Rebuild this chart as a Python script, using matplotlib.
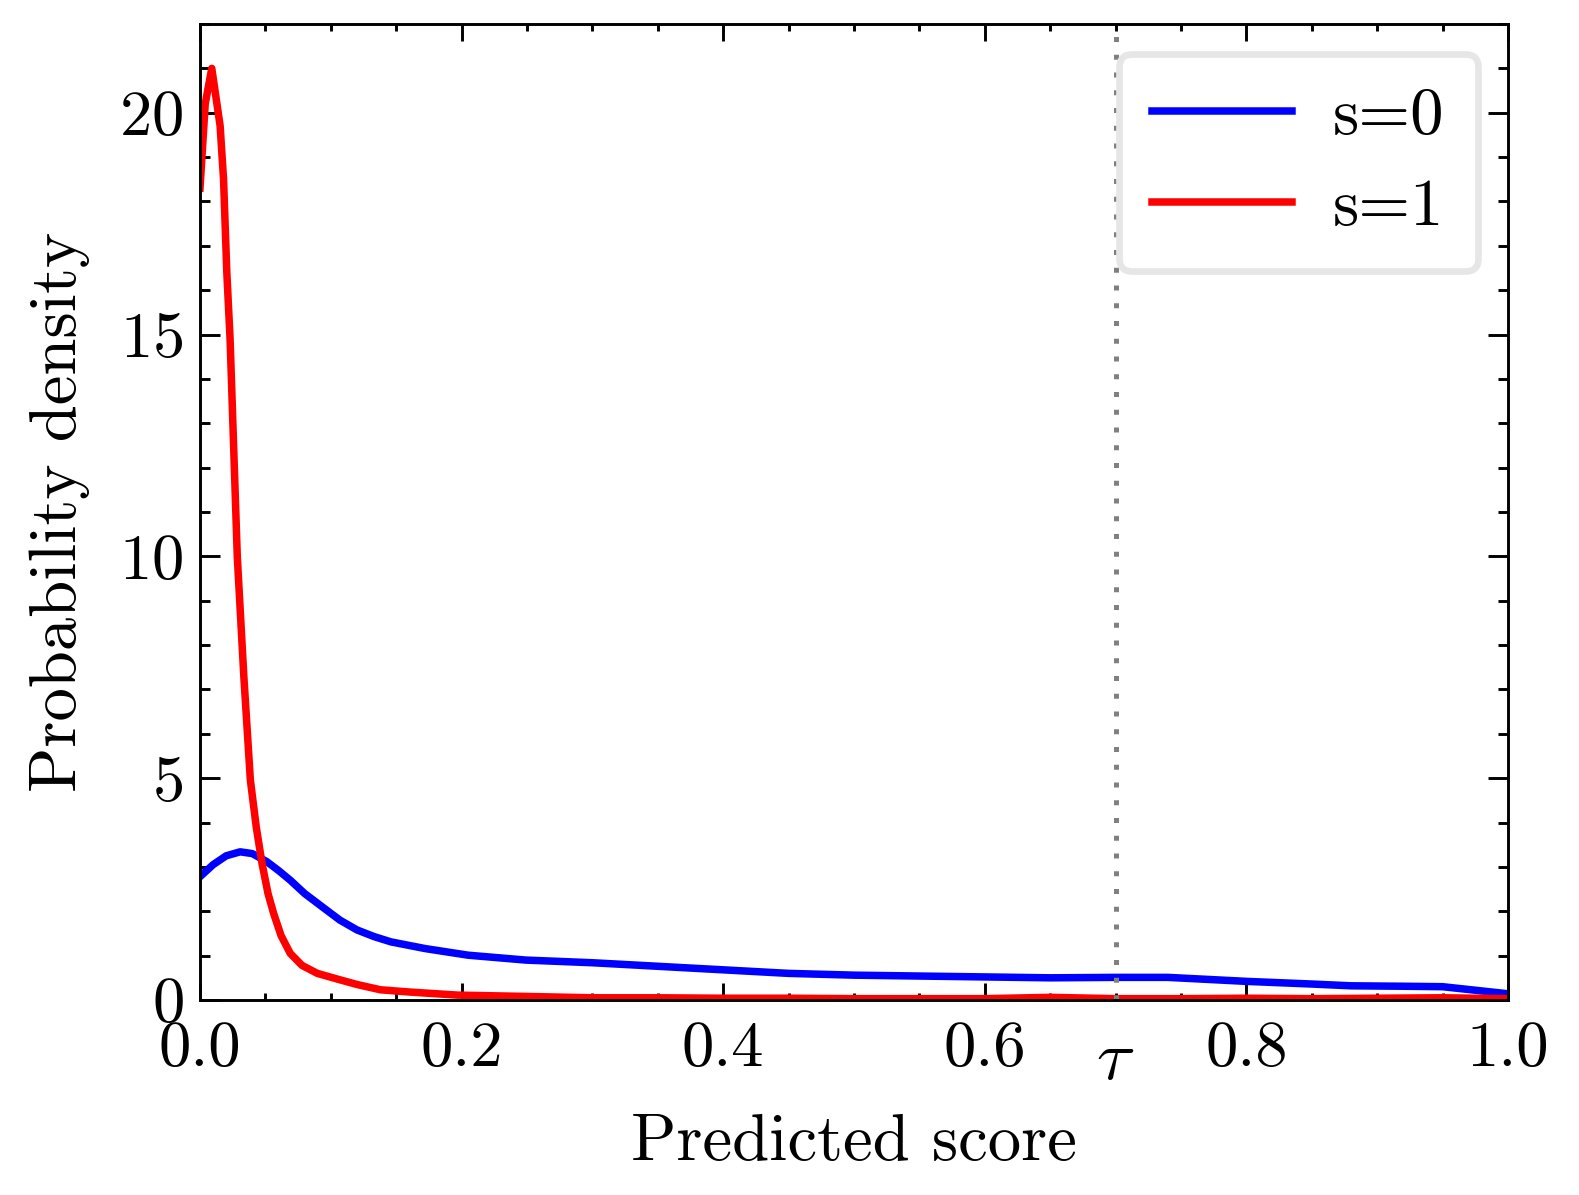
import numpy as np
import matplotlib
matplotlib.use('Agg')
import matplotlib.pyplot as plt
from matplotlib.ticker import MultipleLocator, FuncFormatter

plt.rcParams['font.family'] = 'serif'
plt.rcParams['font.serif'] = ['cmr10']
plt.rcParams['mathtext.fontset'] = 'cm'
plt.rcParams['axes.unicode_minus'] = False
plt.rcParams['axes.formatter.use_mathtext'] = True

# curves
x_s0 = [0.0, 0.01, 0.02, 0.0307, 0.04, 0.051, 0.06, 0.069, 0.08, 0.0948, 0.107,
        0.12, 0.133, 0.146, 0.172, 0.205, 0.249, 0.3, 0.35, 0.4, 0.45, 0.5,
        0.55, 0.6, 0.65, 0.7, 0.74, 0.8, 0.85, 0.88, 0.92, 0.95, 0.975, 1.0]
y_s0 = [2.78, 3.05, 3.25, 3.34, 3.3, 3.12, 2.92, 2.7, 2.4, 2.07, 1.8,
        1.58, 1.43, 1.31, 1.16, 1.01, 0.9, 0.84, 0.76, 0.68, 0.6, 0.56,
        0.54, 0.52, 0.5, 0.51, 0.51, 0.42, 0.36, 0.32, 0.31, 0.30, 0.22, 0.14]

x_s1 = [0.0, 0.004, 0.009, 0.0154, 0.018, 0.0205, 0.023, 0.0285, 0.0335, 0.0385,
        0.043, 0.0474, 0.052, 0.0563, 0.062, 0.069, 0.078, 0.0897, 0.1076, 0.12,
        0.138, 0.16, 0.197, 0.25, 0.3, 0.35, 0.4, 0.45, 0.5, 0.55, 0.6, 0.65,
        0.7, 0.75, 0.8, 0.85, 0.9, 0.95, 1.0]
y_s1 = [18.3, 20.2, 21.0, 19.7, 18.5, 16.4, 14.9, 10.0, 7.3, 4.96,
        3.9, 3.08, 2.4, 1.95, 1.45, 1.05, 0.78, 0.6, 0.45, 0.35,
        0.23, 0.18, 0.11, 0.08, 0.05, 0.05, 0.04, 0.04, 0.03, 0.03, 0.03, 0.06,
        0.03, 0.03, 0.04, 0.03, 0.04, 0.05, 0.03]

tau = 0.7
labels = ['s=0', 's=1']

fig = plt.figure(figsize=(1579/300, 1195/300), dpi=300)
ax = fig.add_axes([200/1579, 1 - 1000/1195, 1308/1579, 976/1195])

ax.plot(x_s0, y_s0, color='blue', lw=1.8, label=labels[0])
ax.plot(x_s1, y_s1, color='red', lw=1.8, label=labels[1])
ax.axvline(tau, color='gray', lw=1.2, linestyle=(0, (1, 2.55)))

ax.set_xlim(0, 1)
ax.set_ylim(0, 22)
ax.xaxis.set_major_locator(MultipleLocator(0.2))
ax.xaxis.set_minor_locator(MultipleLocator(0.05))
ax.yaxis.set_major_locator(MultipleLocator(5))
ax.yaxis.set_minor_locator(MultipleLocator(1))
ax.xaxis.set_major_formatter(FuncFormatter(lambda v, p: f'{v:.1f}'))
ax.xaxis.set_minor_formatter(FuncFormatter(lambda v, p: r'$\tau$' if abs(v - tau) < 1e-6 else ''))

ax.tick_params(which='both', direction='in', top=True, right=True, width=0.7, labelsize=15.5)
ax.tick_params(axis='y', which='major', length=4.8, pad=4)
ax.tick_params(axis='y', which='minor', length=2.4)
ax.tick_params(axis='x', which='major', length=4.0, pad=5)
ax.tick_params(axis='x', which='minor', length=1.6, pad=7.0, labelsize=17)
for sp in ax.spines.values():
    sp.set_linewidth(0.7)

ax.set_xlabel('Predicted score', fontsize=16, labelpad=5)
ax.set_ylabel('Probability density', fontsize=16, labelpad=7)

leg = ax.legend(loc='upper right', fontsize=16, handlelength=2.1, handletextpad=0.62,
                labelspacing=0.47, borderpad=0.5, borderaxespad=0.45,
                fancybox=True, framealpha=1.0, edgecolor='#e6e6e6')
leg.get_frame().set_linewidth(1.6)

fig.savefig('out.png', dpi=300)
plt.close(fig)
